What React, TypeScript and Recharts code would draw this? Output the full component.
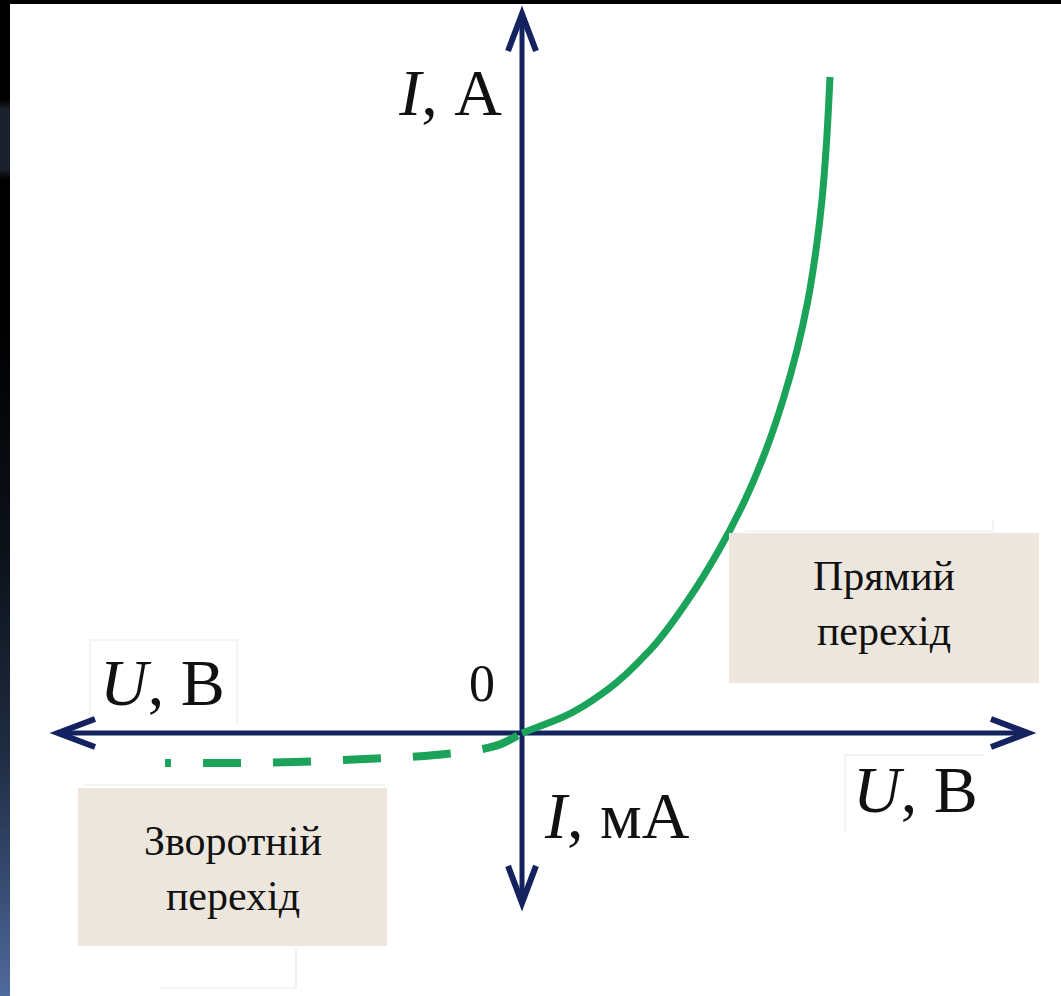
import React from 'react';
import { ComposedChart, Line, XAxis, YAxis, ReferenceLine } from 'recharts';

// Axis ranges (U in volts, I in amperes; reverse branch shown schematically in the same scale)
const U_DOMAIN: [number, number] = [-1.305, 1.3475];
const I_DOMAIN: [number, number] = [-4.009, 11.174];
const U_AXIS_ENDS: [number, number] = [-1.16, 1.265];
const I_AXIS_ENDS: [number, number] = [-2.59, 10.96];

// Forward branch ("Прямий перехід")
const forwardU = [0, 0.02, 0.1025, 0.2125, 0.32, 0.415, 0.4925, 0.5575, 0.61, 0.6525, 0.6875, 0.715, 0.735, 0.75, 0.76, 0.77];
const forwardI = [0, 0.046, 0.244, 0.655, 1.265, 2.027, 2.79, 3.552, 4.314, 5.076, 5.838, 6.601, 7.363, 8.125, 8.887, 10];

// Reverse branch ("Зворотній перехід")
const reverseU = [-0.8925, -0.745, -0.5675, -0.3925, -0.2175, -0.13, -0.0525, 0];
const reverseI = [-0.457, -0.457, -0.442, -0.396, -0.335, -0.274, -0.168, 0];

const forwardData = forwardU.map((u, k) => ({ u, i: forwardI[k] }));
const reverseData = reverseU.map((u, k) => ({ u, i: reverseI[k] }));

const NAVY = '#14235f';
const GREEN = '#1ba35a';
const BOX = '#ece6dd';
const FAINT = '#efefef';
const SERIF = '"Liberation Serif", "Times New Roman", serif';

const ArrowAxis = (props: any) => {
  const { x1, y1, x2, y2 } = props;
  const dx = x2 - x1;
  const dy = y2 - y1;
  const len = Math.sqrt(dx * dx + dy * dy) || 1;
  const ux = dx / len;
  const uy = dy / len;
  const px = -uy;
  const py = ux;
  const L = 37;
  const W = 14;
  const head = (tx: number, ty: number, dirx: number, diry: number) =>
    `${tx - dirx * L + px * W},${ty - diry * L + py * W} ${tx},${ty} ${tx - dirx * L - px * W},${ty - diry * L - py * W}`;
  return (
    <g>
      <line x1={x1 + ux * 3} y1={y1 + uy * 3} x2={x2 - ux * 3} y2={y2 - uy * 3} stroke={NAVY} strokeWidth={5} />
      <polyline points={head(x2, y2, ux, uy)} fill="none" stroke={NAVY} strokeWidth={6} strokeLinejoin="miter" strokeMiterlimit={10} />
      <polyline points={head(x1, y1, -ux, -uy)} fill="none" stroke={NAVY} strokeWidth={6} strokeLinejoin="miter" strokeMiterlimit={10} />
    </g>
  );
};

export default function App() {
  return (
    <div style={{ position: 'absolute', left: 0, top: 0, width: 1061, height: 996, background: '#000', overflow: 'hidden' }}>
      <div
        style={{
          position: 'absolute',
          left: 0,
          top: 0,
          width: 10,
          height: 996,
          background:
            'linear-gradient(180deg, #000 0%, #000 10%, #1b212c 11%, #1b212c 17%, #000 18%, #000 32%, #0c1119 55%, #1f2b40 75%, #364a70 88%, #4f6a9c 100%)',
        }}
      />
      <div style={{ position: 'absolute', left: 10, top: 4, width: 1051, height: 992, background: '#fff' }} />
      <svg width={1061} height={996} style={{ position: 'absolute', left: 0, top: 0, pointerEvents: 'none' }}>
        <g fill="none" stroke={FAINT} strokeWidth={1.5}>
          <polyline points="90,724 90,640 237,640 237,724" />
          <polyline points="845,832 845,755 985,755" />
          <line x1={85} y1={785} x2={385} y2={785} />
          <polyline points="160,988 296,988 296,948" />
          <polyline points="745,531 993,531 993,520" />
        </g>
      </svg>
      <div style={{ position: 'absolute', left: 0, top: 0 }}>
        <ComposedChart width={1061} height={996} margin={{ top: 0, right: 0, bottom: 0, left: 0 }}>
          <XAxis type="number" dataKey="u" domain={U_DOMAIN} allowDataOverflow hide />
          <YAxis type="number" dataKey="i" domain={I_DOMAIN} allowDataOverflow hide />
          <ReferenceLine
            segment={[{ x: U_AXIS_ENDS[0], y: 0 }, { x: U_AXIS_ENDS[1], y: 0 }]}
            ifOverflow="visible"
            shape={ArrowAxis}
          />
          <ReferenceLine
            segment={[{ x: 0, y: I_AXIS_ENDS[0] }, { x: 0, y: I_AXIS_ENDS[1] }]}
            ifOverflow="visible"
            shape={ArrowAxis}
          />
          <Line
            data={reverseData}
            dataKey="i"
            type="monotone"
            stroke={GREEN}
            strokeWidth={8}
            strokeDasharray="38 32"
            strokeDashoffset={32}
            dot={false}
            activeDot={false}
            isAnimationActive={false}
          />
          <Line
            data={forwardData}
            dataKey="i"
            type="monotoneY"
            stroke={GREEN}
            strokeWidth={7}
            dot={false}
            activeDot={false}
            isAnimationActive={false}
          />
        </ComposedChart>
      </div>
      <svg width={1061} height={996} style={{ position: 'absolute', left: 0, top: 0, pointerEvents: 'none' }}>
        <g fontFamily={SERIF} fill="#111">
          <text x={502} y={115} fontSize={66} textAnchor="end">
            <tspan fontStyle="italic">I</tspan>, А
          </text>
          <text x={100} y={705} fontSize={66}>
            <tspan fontStyle="italic">U</tspan>, В
          </text>
          <text x={482} y={701} fontSize={52} textAnchor="middle">0</text>
          <text x={545} y={838} fontSize={66}>
            <tspan fontStyle="italic">I</tspan>, мА
          </text>
          <text x={853} y={812} fontSize={66}>
            <tspan fontStyle="italic">U</tspan>, В
          </text>
        </g>
        <rect x={729} y={533} width={310} height={150} fill={BOX} />
        <text x={884} y={590} fontSize={42} textAnchor="middle" fontFamily={SERIF} fill="#111">Прямий</text>
        <text x={884} y={645} fontSize={42} textAnchor="middle" fontFamily={SERIF} fill="#111">перехід</text>
        <rect x={78} y={788} width={309} height={158} fill={BOX} />
        <text x={233} y={855} fontSize={42} textAnchor="middle" fontFamily={SERIF} fill="#111">Зворотній</text>
        <text x={233} y={910} fontSize={42} textAnchor="middle" fontFamily={SERIF} fill="#111">перехід</text>
      </svg>
    </div>
  );
}
